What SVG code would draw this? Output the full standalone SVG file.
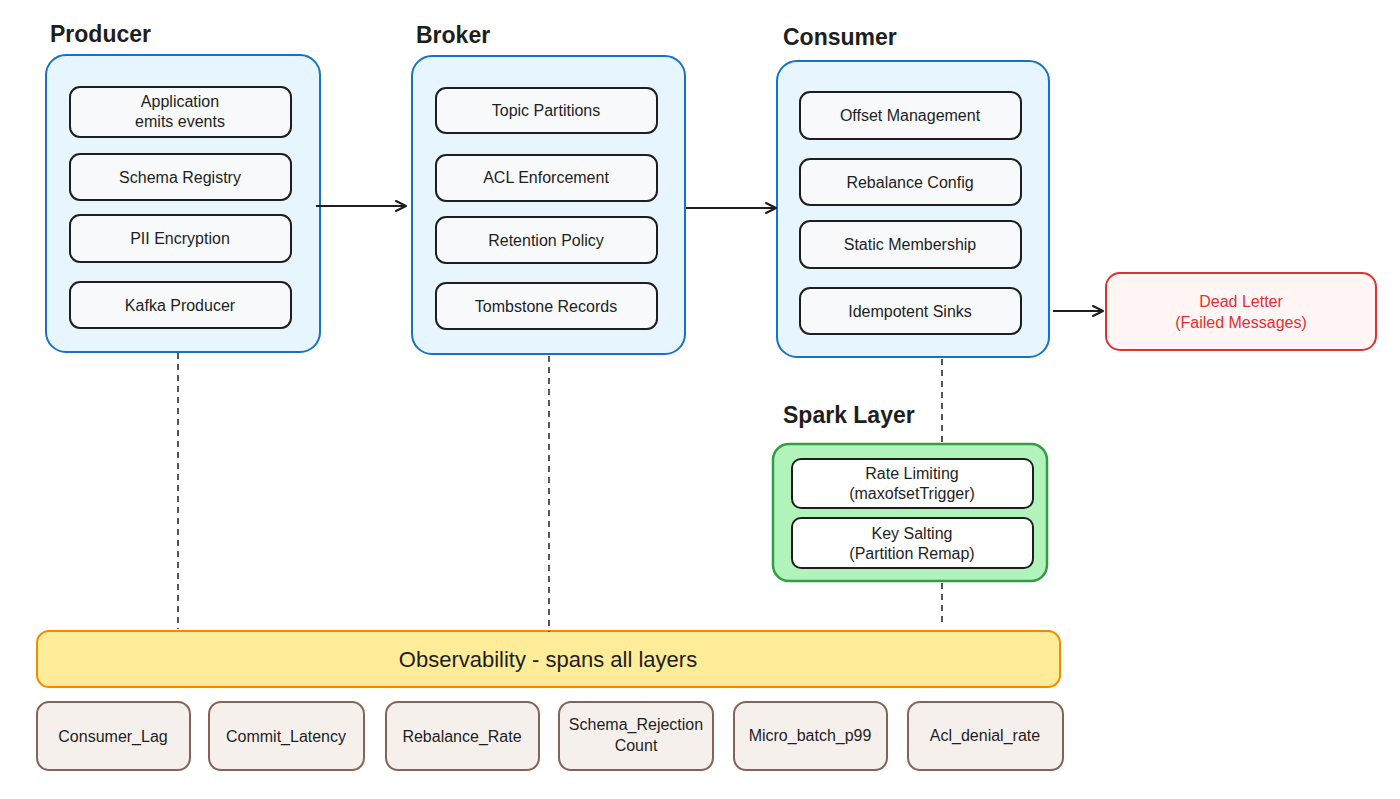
<svg xmlns="http://www.w3.org/2000/svg" width="1400" height="799" viewBox="0 0 1400 799">
<defs>
<marker id="arr" viewBox="0 0 12 12" refX="11" refY="6" markerWidth="12" markerHeight="12" markerUnits="userSpaceOnUse" orient="auto">
<path d="M1,1 L11,6 L1,11" fill="none" stroke="#1e1e1e" stroke-width="2" stroke-linecap="round" stroke-linejoin="round"/>
</marker>
<style>
text{font-family:"Liberation Sans","DejaVu Sans",sans-serif;fill:#1e1e1e;text-anchor:middle;dominant-baseline:central}
.title{font-size:23px;font-weight:bold;text-anchor:start;dominant-baseline:alphabetic}
.t{font-size:16px}
.grp{fill:#e7f5ff;stroke:#1971c2;stroke-width:2}
.item{fill:#f8f9fa;stroke:#1e1e1e;stroke-width:2}
.spark{fill:#b2f2bb;stroke:#2f9e44;stroke-width:2.5}
.sitem{fill:#ffffff;stroke:#1e1e1e;stroke-width:2}
.obs{fill:#ffec99;stroke:#f08c00;stroke-width:2}
.met{fill:#f6f0ed;stroke:#846358;stroke-width:2}
.dl{fill:#fff5f5;stroke:#e03131;stroke-width:2}
.edge{stroke:#1e1e1e;stroke-width:2;fill:none}
.dash{stroke:#1e1e1e;stroke-width:1.5;fill:none;stroke-dasharray:6 5}
</style>
</defs>
<rect width="1400" height="799" fill="#ffffff"/>

<g id="producer">
<text class="title" x="50" y="42">Producer</text>
<rect class="grp" x="46" y="55" width="274" height="297" rx="20"/>
<rect class="item" x="70" y="87" width="221" height="50" rx="10"/>
<text class="t" x="180" y="101">Application</text>
<text class="t" x="180" y="121">emits events</text>
<rect class="item" x="70" y="154" width="221" height="46" rx="10"/>
<text class="t" x="180" y="177">Schema Registry</text>
<rect class="item" x="70" y="215" width="221" height="47" rx="10"/>
<text class="t" x="180" y="238">PII Encryption</text>
<rect class="item" x="70" y="282" width="221" height="46" rx="10"/>
<text class="t" x="180" y="305">Kafka Producer</text>
</g>

<g id="broker">
<text class="title" x="416" y="43">Broker</text>
<rect class="grp" x="412" y="56" width="273" height="298" rx="20"/>
<rect class="item" x="436" y="88" width="221" height="45" rx="10"/>
<text class="t" x="546" y="110">Topic Partitions</text>
<rect class="item" x="436" y="155" width="221" height="46" rx="10"/>
<text class="t" x="546" y="177">ACL Enforcement</text>
<rect class="item" x="436" y="217" width="221" height="46" rx="10"/>
<text class="t" x="546" y="240">Retention Policy</text>
<rect class="item" x="436" y="283" width="221" height="46" rx="10"/>
<text class="t" x="546" y="306">Tombstone Records</text>
</g>

<g id="consumer">
<text class="title" x="783" y="45">Consumer</text>
<rect class="grp" x="777" y="61" width="272" height="296" rx="20"/>
<rect class="item" x="800" y="92" width="221" height="47" rx="10"/>
<text class="t" x="910" y="115">Offset Management</text>
<rect class="item" x="800" y="159" width="221" height="46" rx="10"/>
<text class="t" x="910" y="182">Rebalance Config</text>
<rect class="item" x="800" y="221" width="221" height="47" rx="10"/>
<text class="t" x="910" y="244">Static Membership</text>
<rect class="item" x="800" y="288" width="221" height="46" rx="10"/>
<text class="t" x="910" y="311">Idempotent Sinks</text>
</g>

<g id="deadletter">
<rect class="dl" x="1106" y="273" width="270" height="77" rx="14"/>
<text class="t" x="1241" y="301" style="fill:#e03131">Dead Letter</text>
<text class="t" x="1241" y="322" style="fill:#e03131">(Failed Messages)</text>
</g>

<g id="spark">
<text class="title" x="783" y="423">Spark Layer</text>
<rect class="spark" x="773" y="444" width="274" height="137" rx="16"/>
<rect class="sitem" x="792" y="459" width="241" height="49" rx="9"/>
<text class="t" x="912" y="473">Rate Limiting</text>
<text class="t" x="912" y="493">(maxofsetTrigger)</text>
<rect class="sitem" x="792" y="518" width="241" height="50" rx="9"/>
<text class="t" x="912" y="533">Key Salting</text>
<text class="t" x="912" y="553">(Partition Remap)</text>
</g>

<g id="observability">
<rect class="obs" x="37" y="631" width="1023" height="56" rx="12"/>
<text x="548" y="659" style="font-size:22px">Observability - spans all layers</text>
</g>

<g id="metrics">
<rect class="met" x="37" y="702" width="153" height="68" rx="12"/>
<text class="t" x="113" y="736">Consumer_Lag</text>
<rect class="met" x="209" y="702" width="155" height="68" rx="12"/>
<text class="t" x="286" y="736">Commit_Latency</text>
<rect class="met" x="386" y="702" width="153" height="68" rx="12"/>
<text class="t" x="462" y="736">Rebalance_Rate</text>
<rect class="met" x="559" y="702" width="154" height="68" rx="12"/>
<text class="t" x="636" y="724">Schema_Rejection</text>
<text class="t" x="636" y="745">Count</text>
<rect class="met" x="734" y="702" width="153" height="68" rx="12"/>
<text class="t" x="810" y="735">Micro_batch_p99</text>
<rect class="met" x="908" y="702" width="155" height="68" rx="12"/>
<text class="t" x="985" y="735">Acl_denial_rate</text>
</g>

<g id="connectors">
<line class="edge" x1="316" y1="206" x2="406" y2="206" marker-end="url(#arr)"/>
<line class="edge" x1="686" y1="208" x2="776" y2="208" marker-end="url(#arr)"/>
<line class="edge" x1="1053" y1="311" x2="1103" y2="311" marker-end="url(#arr)"/>
<line class="dash" x1="178" y1="353" x2="178" y2="629"/>
<line class="dash" x1="549" y1="356" x2="549" y2="632"/>
<line class="dash" x1="942" y1="359" x2="942" y2="442"/>
<line class="dash" x1="942" y1="583" x2="942" y2="625"/>
</g>
</svg>
